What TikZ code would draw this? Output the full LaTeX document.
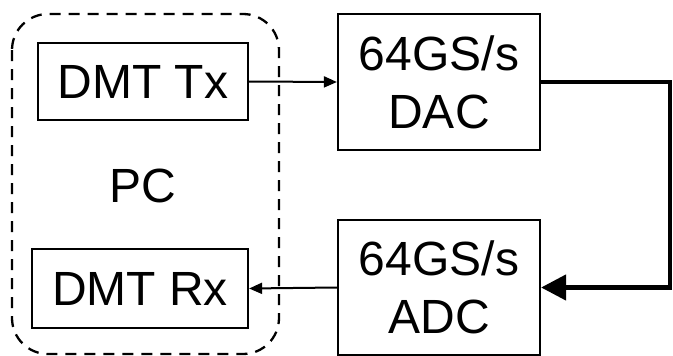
\documentclass[tikz,border=0pt]{standalone}
\usepackage{fontspec}
\setmainfont{Liberation Sans}
\usetikzlibrary{arrows.meta}
\begin{document}
\begin{tikzpicture}[x=1pt,y=-1pt,
  blk/.style={draw,line width=2.2pt,inner sep=0pt,align=center,
    font=\fontsize{48}{58}\selectfont},
  thin/.style={line width=2pt,-{Triangle[length=13pt,width=11pt]}},
  thick/.style={line width=4.5pt,-{Triangle[length=25pt,width=25pt]}},
  grp/.style={draw,line width=2.3pt,dash pattern=on 11pt off 8pt,rounded corners=36pt}]
\useasboundingbox (0,0) rectangle (673,356);
\draw[grp] (12,14) rectangle (279,354);
\node[blk,minimum width=210pt,minimum height=77pt] (tx) at (143,81.5) {DMT Tx};
\node[blk,minimum width=216pt,minimum height=79pt] (rx) at (140,288.5) {DMT Rx};
\node[blk,minimum width=202pt,minimum height=136pt] (dac) at (439,82) {64GS/s\\DAC};
\node[blk,minimum width=202pt,minimum height=135pt] (adc) at (439,287.5) {64GS/s\\ADC};
\node[font=\fontsize{48}{58}\selectfont] (pc) at (143,186) {PC};
\coordinate (c1) at (670,82);
\coordinate (c2) at (670,287.5);
\draw[thin] (tx.east) -- (dac.west);
\draw[thin] (adc.west) -- (rx.east);
\draw[thick] (dac.east) -- (c1) -- (c2) -- (adc.east);
\end{tikzpicture}
\end{document}
